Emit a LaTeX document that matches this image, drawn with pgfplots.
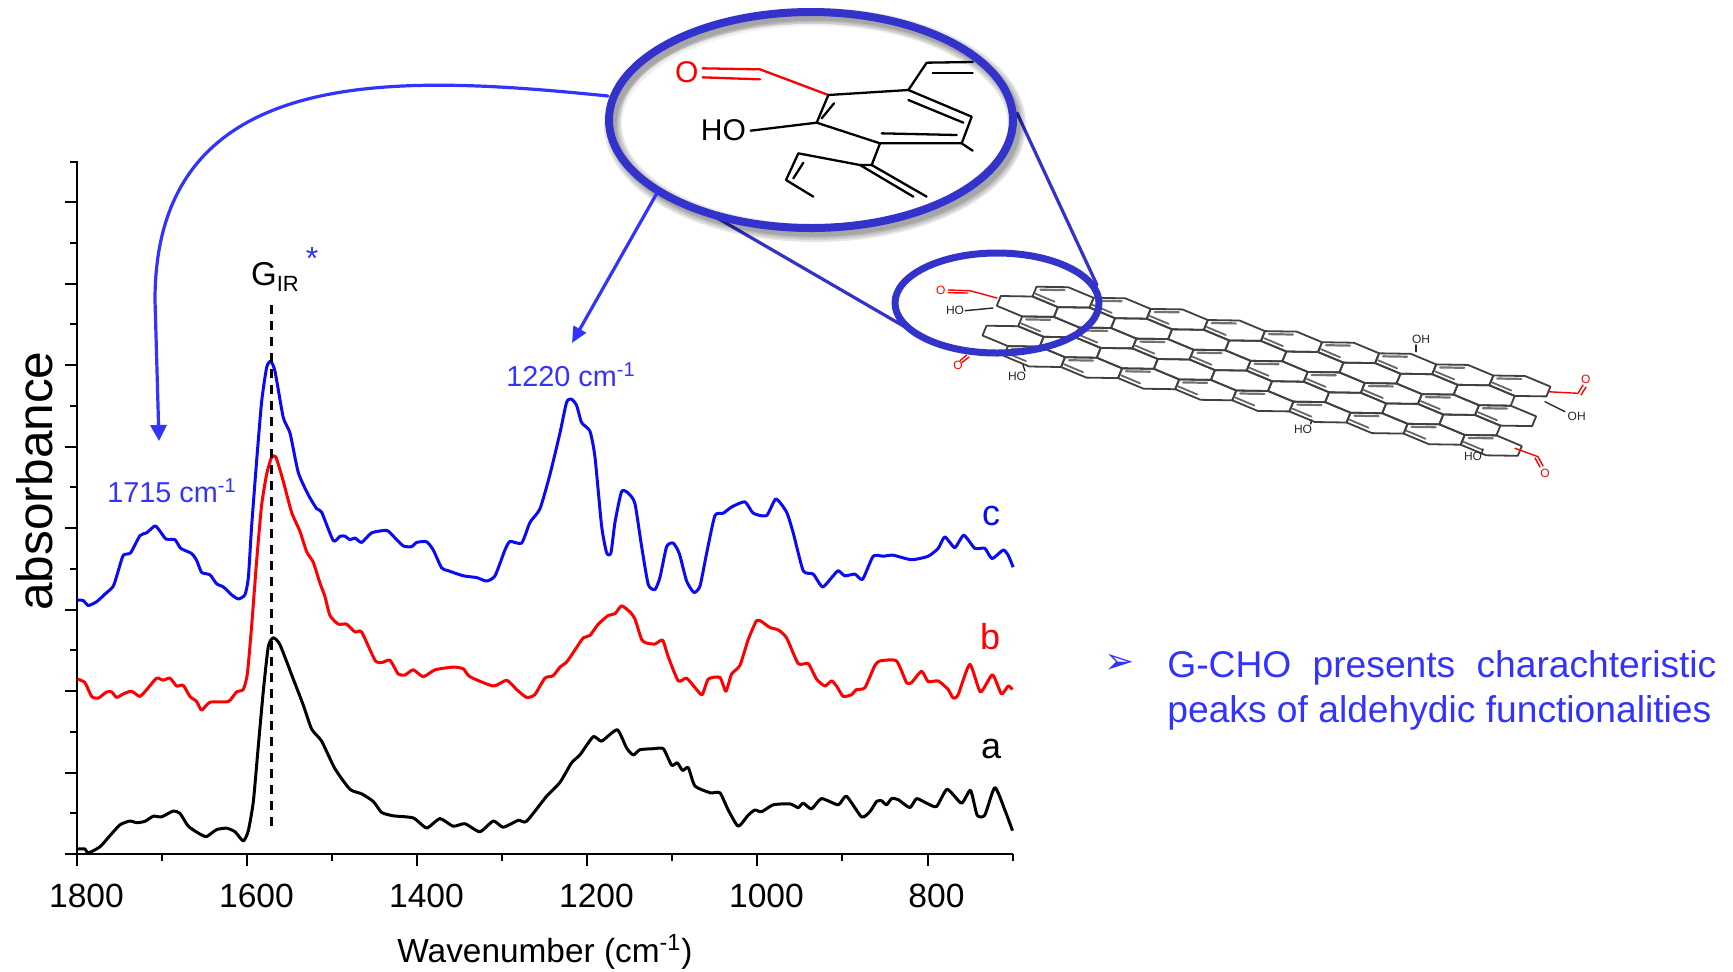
\documentclass[border=0pt]{standalone}
\usepackage{pgfplots}
\pgfplotsset{compat=1.18}
\usepackage{fontspec}
\setmainfont{Liberation Sans}
\newfontfamily\dejavu{DejaVu Sans}
\usetikzlibrary{arrows.meta}
\definecolor{lens}{HTML}{3333CC}
\definecolor{txtblue}{HTML}{3333FF}
\definecolor{curveblue}{HTML}{0A0AF5}
\newcommand{\fs}[1]{\fontsize{#1}{#1}\selectfont}
\begin{document}
\begin{tikzpicture}[x=0.5pt,y=-0.5pt,line cap=round,line join=round]
\useasboundingbox (0,0) rectangle (1733,971);
\begin{axis}[
  at={(38.75pt,-427pt)},anchor=south west,scale only axis,
  width=467.5pt,height=346.5pt,
  x dir=reverse,xmin=700,xmax=1800,ymin=0,ymax=693,
  axis x line*=bottom,axis y line*=left,
  axis line style={line width=1pt,black},
  xtick={800,1000,1200,1400,1600,1800},
  minor xtick={700,900,1100,1300,1500,1700},
  ytick={0,81.5,163,244.5,326,407.5,489,570.5,652},
  yticklabels={},
  minor ytick={40.75,122.25,203.75,285.25,366.75,448.25,529.75,611.25,692},
  tick align=outside,
  major tick length=6pt,minor tick length=3.5pt,
  tick style={line width=1pt,black},
  /pgf/number format/assume math mode=true,
  /pgf/number format/1000 sep={},
  xticklabel style={font=\fs{16.8},xshift=4.5pt,yshift=-5.5pt},
  clip=false,
  every axis plot/.append style={no marks,line width=1.5pt,smooth,tension=0.35},
]
% a (black)
\addplot[black] coordinates {
(1800,5.1)(1791.2,5.1)(1787.3,1)(1773.6,7.2)(1763.7,16.5)(1750,29.2)(1738.2,33)(1730.4,31.3)(1720.6,32.7)(1710.8,37.8)(1701,37.2)(1687.3,43)(1679.4,40.6)(1669.6,27.8)(1655.9,19.9)(1648,17.5)(1636.3,24.4)(1624.5,25.8)(1614.7,22.3)(1604.9,13)(1599,23.4)(1593.1,52.6)(1587.3,107.7)(1581.4,162.8)(1575.5,207.6)(1569.6,216.2)(1561.8,209.3)(1546.1,174.9)(1534.4,149)(1524.5,124.9)(1512.8,112.9)(1497.1,85.3)(1479.4,64.7)(1465.7,60.2)(1452,52.6)(1442.2,41.6)(1428.4,38.2)(1405,36.1)(1389.2,26.1)(1373.6,35.4)(1358,27.8)(1344.2,30.3)(1326.6,22.3)(1310.8,33)(1299.1,26.8)(1281.4,33.7)(1271.7,32.7)(1248.1,57.8)(1232.4,71.6)(1218.7,91.2)(1208.9,99.1)(1193.2,117.4)(1183.4,112.9)(1165,124.2)(1154,106)(1146.1,99.1)(1138.3,104.3)(1122.6,105.3)(1110.8,105.3)(1101,88.8)(1094.4,91.2)(1088.1,83.6)(1081.4,86.4)(1073.6,68.1)(1055.4,61.2)(1044.2,61.2)(1034.4,44)(1022.7,27.8)(1010.9,38.9)(1003.1,44)(995.2,42.3)(981.5,49.2)(961.9,50.2)(952.1,46.4)(946.2,50.9)(936.4,45.1)(924.7,55.4)(905,49.2)(895.3,57.8)(877.6,37.1)(867.8,42.3)(859.9,52.6)(854.1,53.3)(848.2,49.2)(842.3,55.4)(834.5,54.4)(820.8,46.4)(812.9,55.4)(801.2,50.9)(789.4,47.5)(776.9,64.7)(760,50.9)(749.4,63.7)(741.6,38.9)(732.6,38.9)(720.8,66.4)(709,44)(700,23.4)};
% b (red)
\addplot[red] coordinates {
(1800,174.9)(1791.2,171.4)(1783.4,157.6)(1775.5,155.9)(1765.7,162.1)(1759.8,162.1)(1754,156.6)(1746.1,160.1)(1736.3,162.8)(1726.5,157.6)(1716.7,166.3)(1706.9,175.9)(1699.1,173.8)(1691.2,175.9)(1683.4,168)(1675.6,168.7)(1667.7,157.6)(1659.8,152.5)(1654,143.9)(1644.1,151.8)(1622.6,152.5)(1612.8,162.1)(1605,164.5)(1600.2,180)(1595.1,228.2)(1589.2,293.6)(1583.4,348.7)(1577.5,379.7)(1571.6,396.9)(1566.6,396.9)(1557.9,372.8)(1548.2,341.9)(1538.4,322.9)(1530.4,302.3)(1522.7,291.9)(1514.9,271.3)(1508.9,257.5)(1503,238.6)(1493.2,229.9)(1483.4,229.9)(1473.5,222)(1465.7,222)(1450,193.8)(1442.2,191.4)(1432.4,193.8)(1422.6,180)(1414.7,179)(1405,184.2)(1393.2,177.3)(1379.4,184.2)(1358,186.9)(1346.1,185.2)(1338.3,177.3)(1310.8,168)(1295.1,173.8)(1283.4,164.5)(1271.7,156.6)(1262,159.4)(1250.1,175.9)(1240.4,178.3)(1232.4,186.9)(1224.5,192)(1214.7,204.1)(1204.9,216.2)(1197.1,218.6)(1187.3,229.9)(1175.5,238.6)(1167.7,240.3)(1159.9,248.2)(1150,242)(1144.2,235.1)(1136.3,214.5)(1130.5,211)(1120.7,210)(1111.6,213.8)(1105,197.2)(1093.2,173.1)(1083.4,175.9)(1071.7,164.5)(1065,159.4)(1057.9,174.9)(1044.2,176.6)(1037.2,162.8)(1030.5,180)(1020.7,188.6)(1010.9,214.5)(1001.1,233.4)(995.2,232.4)(985.4,226.5)(975.6,224.1)(965.8,216.2)(952.1,190.4)(940.3,190.4)(930.5,174.9)(920.7,168)(912.9,173.1)(907,168)(899.2,157.6)(889.4,159.4)(883.5,164.5)(873.7,166.3)(861.9,188.6)(855.7,193.1)(836.5,193.1)(824.7,171.4)(818.8,171.4)(807,182.8)(799.2,172.4)(787.4,173.1)(775.7,164.5)(769.8,155.9)(763.9,159.4)(750.2,189.7)(737.7,162.1)(723.6,179.3)(713,160.1)(705.1,168)(700,164.5)};
% c (blue)
\addplot[curveblue] coordinates {
(1800,254)(1793.1,253.4)(1787.3,248.5)(1777.5,252.3)(1767.7,259.9)(1757.9,267.8)(1752,283.3)(1746.1,298.8)(1737.5,301.2)(1726.5,318.4)(1718.6,321.2)(1708.8,328.1)(1703,322.9)(1695.9,315)(1685.3,314.3)(1678.6,305.7)(1665.7,300.5)(1659.8,293.6)(1653.9,281.6)(1644.1,279.2)(1636.3,270.2)(1628.4,267.1)(1618.6,259.2)(1610.8,255.1)(1603,259.2)(1599,276.4)(1595.1,328.1)(1589.2,393.5)(1583.4,452)(1577.5,486.5)(1572.8,492.7)(1567.7,483)(1557.9,436.5)(1550,421)(1540.2,381.4)(1528.4,359.1)(1518.6,345.3)(1512.8,341.9)(1499,313.3)(1491.2,317.8)(1485.3,317.8)(1479.4,314.3)(1473.5,316)(1465.7,311.6)(1453.9,321.2)(1436.3,323.6)(1428.4,317.8)(1416.7,308.1)(1406.9,307.4)(1401,311.6)(1389.2,312.2)(1381.4,304)(1371.6,286.1)(1363.8,283.3)(1346.1,278.2)(1330.4,276.4)(1318.6,273)(1308.8,278.2)(1297.1,304)(1291.2,312.6)(1277.5,310.9)(1267.7,331.5)(1255.9,345.3)(1244.1,379.7)(1232.4,421)(1224.5,452)(1218.7,454.8)(1212.8,448.6)(1206.9,431.4)(1197.1,422.8)(1191.2,397)(1183.4,328.1)(1177.5,301.2)(1172.4,301.2)(1167.7,331.5)(1159.9,362.5)(1152,360.8)(1144.2,350.5)(1136.3,307.4)(1128.5,269.5)(1120.7,264.4)(1114.8,276.4)(1106.9,307.4)(1099.1,310.9)(1092,300.5)(1083.4,273)(1074.8,261.6)(1067.7,267.8)(1059.9,300.5)(1050.1,338.4)(1040.3,340.8)(1030.5,347)(1014.8,352.2)(1005,340.8)(989.3,338.4)(978.4,355)(965.8,341.9)(958,321.2)(946.2,283.3)(934.4,279.9)(923.5,267.1)(911,278.2)(905,283.3)(897.2,278.2)(885.4,279.9)(876.4,274.7)(863.9,297.8)(852.1,297.8)(840.4,298.8)(818.8,294.3)(799.2,297.8)(787.4,305.7)(779.6,317.1)(767.9,306.4)(757.3,318.8)(744.3,305.7)(732.6,305.7)(724,295.4)(711,304)(705.1,298.8)(699.2,286.8)};
% G_IR dashed marker
\addplot[black,line width=1.5pt,dash pattern=on 4.5pt off 3.5pt,sharp plot,line cap=butt] coordinates {(1571.3,28)(1571.3,556)};
\end{axis}

% texts
\node[rotate=90,font=\fs{24.8}] at (35,481) {absorbance};
\node[font=\fs{16.7}] at (545,952) {Wavenumber (cm\textsuperscript{-1})};
\node[font=\fs{14.4},text=txtblue] at (172,491) {1715 cm\textsuperscript{-1}};
\node[font=\fs{14.4},text=txtblue] at (571,375) {1220 cm\textsuperscript{-1}};
\node[font=\fs{16.5},inner sep=0pt] at (275,277) {G\raisebox{-0.35ex}{\fs{11}IR}};
\node[font=\fs{16},text=txtblue] at (312,258) {*};
\node[font=\fs{18},text=curveblue] at (991,516) {c};
\node[font=\fs{18},text=red] at (990,637) {b};
\node[font=\fs{18},text=black] at (991,749) {a};
\node[font=\dejavu\fs{18},text=txtblue] at (1120,664) {➢};
\node[font=\fs{18.6},text=txtblue,anchor=west,inner sep=0pt] at (1167,668) {\makebox[274.5pt][s]{G-CHO\hfill presents\hfill charachteristic}};
\node[font=\fs{18.6},text=txtblue,anchor=west,inner sep=0pt] at (1167,713) {peaks of aldehydic functionalities};

% graphene sheet
\def\Tx{1036.5}\def\Ty{286.7}
\foreach \j/\a/\b in {0/0/8,1/0/8,2/1/9,3/1/9,4/2/10}{
  \foreach \i in {\a,...,\b}{
    \pgfmathsetmacro\px{\Tx+57.1*\i-35.7*\j}
    \pgfmathsetmacro\py{\Ty+11.1*\i+9.3*\j}
    \draw[line width=0.9pt,black!75] (\px,\py) -- ++(31.7,0.5) -- ++(25.4,10.6) -- ++(-4,9.8) -- ++(-31.7,-0.5) -- ++(-25.4,-10.6) -- cycle;
    \pgfmathparse{int(mod(\j,2))}
    \ifnum\pgfmathresult=0
      \draw[line width=1.1pt,black!55] (\px+4,\py+3) -- ++(24,0.4);
      \draw[line width=0.9pt,black!60] (\px-1,\py+7) -- ++(19,8);
    \fi
  }
}
\begin{scope}[line width=0.7pt,red]
  \draw (997,298) -- (970,290.7) -- (948.3,290);
  \draw (968,293) -- (948,292.7);
  \draw (966.7,355) -- (960,360.7);
  \draw (969,357) -- (962,362.5);
  \draw (1548,391.7) -- (1578,393.3) -- (1583,385);
  \draw (1581,395) -- (1586,387);
  \draw (1515,448.3) -- (1538,456.7) -- (1543,466);
  \draw (1535,458) -- (1540,467);
\end{scope}
\begin{scope}[font=\fs{6},text=red,inner sep=0pt]
  \node at (940.7,290.7) {O};
  \node at (958,365.7) {O};
  \node at (1585.7,379.3) {O};
  \node at (1545,473.3) {O};
\end{scope}
\begin{scope}[line width=0.7pt,black!85]
  \draw (993,308) -- (965,310.7);
  \draw (1023,365) -- (1025,371);
  \draw (1416,351.7) -- (1416,345);
  \draw (1311.7,420) -- (1310.7,424);
  \draw (1483,449) -- (1481.7,453);
  \draw (1545,401.7) -- (1565,411.7);
\end{scope}
\begin{scope}[font=\fs{6},text=black!85,inner sep=0pt]
  \node at (955,310.7) {HO};
  \node at (1017,376.7) {HO};
  \node at (1421,339) {OH};
  \node at (1303,429.3) {HO};
  \node at (1473,456.7) {HO};
  \node at (1576.7,416) {OH};
\end{scope}

% connectors and small lens
\draw[lens,line width=1.6pt] (1017,113) -- (1097,285);
\draw[lens,line width=1.6pt] (707,212) -- (912,331);
\draw[lens,line width=3.5pt] (997,303) ellipse [x radius=102,y radius=50];

% big lens with shadow
\foreach \w in {9,7,5,3.5}{
  \draw[black,opacity=0.1,line width=\w pt] (815,125) ellipse [x radius=202,y radius=108];
}
\fill[white,opacity=0.55] (811,120) ellipse [x radius=190,y radius=96];
\draw[lens,line width=4pt] (811,120) ellipse [x radius=202,y radius=108];

% molecule in lens
\begin{scope}[shift={(580,0)},x=0.16667pt,y=-0.16667pt,line width=1.15pt]
  \draw[red] (368,205) -- (540,208) -- (745,285);
  \draw[red] (368,232) -- (540,238);
  \draw[black] (745,285) -- (985,270) -- (1040,188) -- (1178,186);
  \draw[black] (1058,218) -- (1178,218);
  \draw[black] (985,270) -- (1175,350) -- (1145,430) -- (900,430) -- (710,368) -- (745,285);
  \draw[black] (725,355) -- (762,310);
  \draw[black] (985,300) -- (1150,368);
  \draw[black] (905,400) -- (1130,405);
  \draw[black] (710,368) -- (512,392);
  \draw[black] (1145,430) -- (1178,452);
  \draw[black] (900,430) -- (875,495) -- (1040,590);
  \draw[black] (875,495) -- (840,495) -- (1000,590);
  \draw[black] (840,495) -- (655,460) -- (618,540) -- (700,590);
  \draw[black] (670,488) -- (640,535);
  \node[font=\fs{15},text=red,inner sep=0pt] at (320,217) {O};
  \node[font=\fs{15},text=black,inner sep=0pt] at (430,390) {HO};
\end{scope}

% arrows
\draw[txtblue,line width=1.6pt,-{Triangle[length=8pt,width=8pt]}] (608,96) .. controls (400,75) and (155,60) .. (155,300) -- (159,441);
\draw[txtblue,line width=1.6pt,-{Triangle[length=8pt,width=7pt]}] (657,193) -- (572,343);
\end{tikzpicture}
\end{document}
